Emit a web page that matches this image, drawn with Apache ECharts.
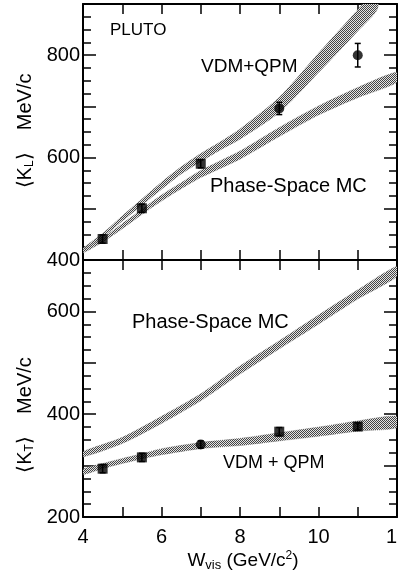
<!DOCTYPE html>
<html><head><meta charset="utf-8">
<script src="https://cdn.jsdelivr.net/npm/echarts@6/dist/echarts.min.js"></script>
<style>html,body{margin:0;padding:0;background:#fff}#c{width:398px;height:577px}</style>
</head><body><div id="c"></div>
<script>
// ---- data: top panel <K_L> ----
const kLx = [4.5, 5.5, 7, 9, 11];
const kLy = [441, 501, 588, 696, 800];
const kLerr = [8, 8, 8, 12, 23];
const kLsym = ['rect', 'rect', 'rect', 'circle', 'circle'];

const vdmLx  = [4, 4.5, 5, 5.5, 6, 6.5, 7, 7.5, 8, 9, 10, 11, 11.5];
const vdmLlo = [417, 444, 476, 507, 538, 568, 592, 615, 636, 688, 766, 847, 890];
const vdmLhi = [423, 452, 486, 519, 552, 582, 608, 631, 656, 718, 804, 889, 934];

const psLx  = [4, 4.5, 5, 5.5, 6, 6.5, 7, 8, 9, 10, 11, 12];
const psLlo = [414, 435, 461, 489, 515, 539, 561, 597, 641, 683, 717, 747];
const psLhi = [420, 443, 471, 499, 527, 551, 575, 613, 659, 701, 737, 767];

// ---- data: bottom panel <K_T> ----
const kTx = [4.5, 5.5, 7, 9, 11];
const kTy = [294, 316, 341, 366, 376];
const kTerr = [8, 8, 7, 8, 7];
const kTsym = ['rect', 'rect', 'circle', 'rect', 'rect'];

const psTx  = [4, 5, 6, 7, 8, 9, 10, 11, 12];
const psTlo = [317, 343, 382, 426, 478, 527, 575, 624, 668];
const psThi = [327, 355, 396, 440, 494, 543, 593, 642, 688];

const vdmTx  = [4, 4.5, 5, 5.5, 6, 7, 8, 9, 10, 11, 12];
const vdmTlo = [283, 294, 304, 313, 321, 333, 339, 348, 357, 367, 374];
const vdmThi = [293, 304, 314, 323, 333, 345, 353, 364, 375, 387, 396];

const xMin = 4, xMax = 12;
const yTopRange = [400, 900];
const yBotRange = [200, 700];

// stipple pattern
const pc = document.createElement('canvas'); pc.width = 2; pc.height = 2;
const g = pc.getContext('2d');
g.fillStyle = '#e4e4e4'; g.fillRect(0, 0, 2, 2);
g.fillStyle = '#444'; g.fillRect(0, 0, 1, 1); g.fillRect(1, 1, 1, 1);
const pattern = { image: pc, repeat: 'repeat' };

const FONT = 'Liberation Sans';

function bandSeries(xs, lo, hi, xi, yi) {
  return { type: 'custom', xAxisIndex: xi, yAxisIndex: yi, z: 2, clip: true, silent: true,
    data: xs.map((x, i) => [x, lo[i], hi[i]]),
    encode: { x: 0, y: [1, 2] },
    renderItem(params, api) {
      if (params.dataIndex !== 0) return null;
      const pts = [];
      for (let i = 0; i < xs.length; i++) pts.push(api.coord([xs[i], lo[i]]));
      for (let i = xs.length - 1; i >= 0; i--) pts.push(api.coord([xs[i], hi[i]]));
      return { type: 'polygon', shape: { points: pts, smooth: 0.25 },
        style: { fill: pattern, stroke: '#777', lineWidth: 0.6, lineDash: [1, 1] } };
    } };
}
function pointSeries(xs, ys, syms, xi, yi) {
  return { type: 'scatter', xAxisIndex: xi, yAxisIndex: yi, z: 6,
    data: xs.map((x, i) => ({ value: [x, ys[i]], symbol: syms[i] })),
    symbolSize: 10, itemStyle: { color: '#000' } };
}
function errSeries(xs, ys, es, xi, yi) {
  return { type: 'custom', xAxisIndex: xi, yAxisIndex: yi, z: 5,
    data: xs.map((x, i) => [x, ys[i] - es[i], ys[i] + es[i]]),
    encode: { x: 0, y: [1, 2] },
    renderItem(params, api) {
      const x = api.value(0);
      const lo = api.coord([x, api.value(1)]);
      const hi = api.coord([x, api.value(2)]);
      const st = { stroke: '#000', lineWidth: 1.5 };
      return { type: 'group', children: [
        { type: 'line', shape: { x1: lo[0], y1: lo[1], x2: hi[0], y2: hi[1] }, style: st },
        { type: 'line', shape: { x1: lo[0] - 3, y1: lo[1], x2: lo[0] + 3, y2: lo[1] }, style: st },
        { type: 'line', shape: { x1: hi[0] - 3, y1: hi[1], x2: hi[0] + 3, y2: hi[1] }, style: st }
      ]};
    } };
}

const axLine = { show: true, lineStyle: { color: '#000', width: 2 } };
function xAx(grid, pos, labels) {
  return { type: 'value', gridIndex: grid, position: pos, min: xMin, max: xMax, interval: 1,
    axisLine: axLine, splitLine: { show: false },
    axisTick: { inside: true, length: 10, lineStyle: { color: '#000', width: 1.5 } },
    axisLabel: { show: labels, fontFamily: FONT, fontSize: 20, color: '#000', margin: 10,
      formatter: v => (v % 2 === 0 ? String(v) : '') } };
}
function yAx(grid, pos, range, labels) {
  return { type: 'value', gridIndex: grid, position: pos, min: range[0], max: range[1], interval: 100,
    axisLine: axLine, splitLine: { show: false },
    axisTick: { inside: true, length: 13, lineStyle: { color: '#000', width: 1.5 } },
    minorTick: { show: true, splitNumber: 4, length: 8, lineStyle: { color: '#000', width: 1.5 } },
    axisLabel: { show: labels, fontFamily: FONT, fontSize: 20, color: '#000', margin: 3,
      formatter: v => (v % 200 === 0 && v !== range[1] ? String(v) : '') } };
}

const chart = echarts.init(document.getElementById('c'), null, { renderer: 'canvas' });
chart.setOption({
  animation: false,
  backgroundColor: '#fff',
  grid: [
    { left: 83, top: 4, width: 314, height: 256, outerBoundsMode: 'none', containLabel: false },
    { left: 83, top: 260, width: 314, height: 257, outerBoundsMode: 'none', containLabel: false }
  ],
  xAxis: [xAx(0, 'bottom', false), xAx(0, 'top', false), xAx(1, 'bottom', true), xAx(1, 'top', false)],
  yAxis: [yAx(0, 'left', yTopRange, true), yAx(0, 'right', yTopRange, false),
          yAx(1, 'left', yBotRange, true), yAx(1, 'right', yBotRange, false)],
  series: [
    bandSeries(vdmLx, vdmLlo, vdmLhi, 0, 0),
    bandSeries(psLx, psLlo, psLhi, 0, 0),
    errSeries(kLx, kLy, kLerr, 0, 0),
    pointSeries(kLx, kLy, kLsym, 0, 0),
    bandSeries(psTx, psTlo, psThi, 2, 2),
    bandSeries(vdmTx, vdmTlo, vdmThi, 2, 2),
    errSeries(kTx, kTy, kTerr, 2, 2),
    pointSeries(kTx, kTy, kTsym, 2, 2)
  ],
  graphic: [
    { type: 'text', x: 110, y: 30, style: { text: 'PLUTO', fontFamily: FONT, fontSize: 17, fill: '#000', verticalAlign: 'middle' } },
    { type: 'text', x: 201, y: 67, style: { text: 'VDM+QPM', fontFamily: FONT, fontSize: 19, fill: '#000', verticalAlign: 'middle' } },
    { type: 'text', x: 210, y: 186, style: { text: 'Phase-Space MC', fontFamily: FONT, fontSize: 20, fill: '#000', verticalAlign: 'middle' } },
    { type: 'text', x: 132, y: 322, style: { text: 'Phase-Space MC', fontFamily: FONT, fontSize: 20, fill: '#000', verticalAlign: 'middle' } },
    { type: 'text', x: 223, y: 463, style: { text: 'VDM + QPM', fontFamily: FONT, fontSize: 18, fill: '#000', verticalAlign: 'middle' } },
    { type: 'text', x: 25, y: 131, rotation: Math.PI / 2,
      style: { text: '⟨K{s|L}⟩    MeV/c', fontFamily: FONT, fontSize: 20, lineHeight: 22, fill: '#000', align: 'center', verticalAlign: 'middle',
        rich: { s: { fontFamily: FONT, fontSize: 12, verticalAlign: 'bottom', lineHeight: 12 } } } },
    { type: 'text', x: 25, y: 415, rotation: Math.PI / 2,
      style: { text: '⟨K{s|T}⟩    MeV/c', fontFamily: FONT, fontSize: 20, lineHeight: 22, fill: '#000', align: 'center', verticalAlign: 'middle',
        rich: { s: { fontFamily: FONT, fontSize: 12, verticalAlign: 'bottom', lineHeight: 12 } } } },
    { type: 'text', x: 243, y: 561,
      style: { text: 'W{s|vis} (GeV/c{p|2})', fontFamily: FONT, fontSize: 19, lineHeight: 22, fill: '#000', align: 'center', verticalAlign: 'middle',
        rich: { s: { fontFamily: FONT, fontSize: 13, verticalAlign: 'bottom', lineHeight: 13 },
                p: { fontFamily: FONT, fontSize: 12, verticalAlign: 'top', lineHeight: 12 } } } }
  ]
});
</script>
</body></html>
